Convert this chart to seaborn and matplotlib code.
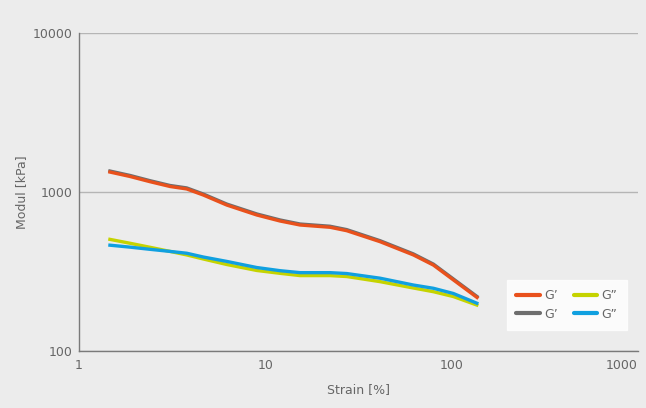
import matplotlib
matplotlib.use("Agg")
import matplotlib.pyplot as plt
import seaborn as sns
import pandas as pd
from matplotlib.ticker import FixedLocator, FixedFormatter, NullLocator
from matplotlib.lines import Line2D

strain = [1.436, 1.878, 2.405, 3.08, 3.785, 4.648, 6.206, 8.99, 11.99,
          15.36, 22.25, 27.35, 41.28, 62.3, 79.8, 102.1, 139.1]
g1_orange = [1342, 1252, 1161, 1083, 1045, 957, 828, 717, 657,
             620, 600, 571, 487, 402, 347, 280, 214]
g1_gray = [1362, 1271, 1178, 1099, 1061, 971, 840, 728, 667,
           629, 609, 580, 494, 408, 352, 284, 217]
g2_yellow = [506, 476, 449, 423, 402, 379, 350, 321, 308,
             298, 298, 294, 273, 249, 236, 220, 193]
g2_blue = [464, 450, 436, 423, 412, 390, 366, 335, 320,
           311, 311, 307, 287, 260, 248, 230, 198]

labels = ["G\u2019", "G\u2019", "G\u201d", "G\u201d"]
colors = ["#e9511c", "#6e6e6e", "#c5d300", "#10a0e0"]
xticks = [1, 10, 100, 1000]
yticks = [100, 1000, 10000]

sns.set_style("white")
plt.rcParams["font.family"] = ["DejaVu Sans"]
bg = "#ececec"
txt = "#666666"

fig = plt.figure(figsize=(6.46, 4.08), dpi=100, facecolor=bg)
ax = fig.add_axes([79/646, 1-351/408, (638-79)/646, (351-33)/408])
ax.set_facecolor(bg)

series = [("gray", g1_gray, colors[1]), ("orange", g1_orange, colors[0]),
          ("yellow", g2_yellow, colors[2]), ("blue", g2_blue, colors[3])]
for name, vals, c in series:
    df = pd.DataFrame({"x": strain, "y": vals})
    sns.lineplot(data=df, x="x", y="y", ax=ax, color=c, lw=2.4,
                 solid_capstyle="butt", solid_joinstyle="round", legend=False)

ax.set_xscale("log")
ax.set_yscale("log")
ax.set_xlim(1, 1000)
ax.set_ylim(100, 10000)
ax.xaxis.set_major_locator(FixedLocator(xticks))
ax.xaxis.set_major_formatter(FixedFormatter([str(v) for v in xticks]))
ax.yaxis.set_major_locator(FixedLocator(yticks))
ax.yaxis.set_major_formatter(FixedFormatter([str(v) for v in yticks]))
ax.xaxis.set_minor_locator(NullLocator())
ax.yaxis.set_minor_locator(NullLocator())
ax.tick_params(axis="both", length=0, labelsize=9, colors=txt)
ax.tick_params(axis="x", pad=6)
ax.tick_params(axis="y", pad=5)
xtl = ax.get_xticklabels()
xtl[-1].set_horizontalalignment("right")
ax.grid(axis="y", color="#b5b5b5", lw=1)
ax.set_axisbelow(True)
for s in ["top", "right"]:
    ax.spines[s].set_visible(False)
for s in ["left", "bottom"]:
    ax.spines[s].set_color("#7a7a7a")
    ax.spines[s].set_linewidth(1)
ax.set_xlabel("Strain [%]", fontsize=9, color=txt, labelpad=8)
ax.set_ylabel("Modul [kPa]", fontsize=9, color=txt, labelpad=3)

handles = [Line2D([], [], color=colors[0], lw=3),
           Line2D([], [], color=colors[1], lw=3),
           Line2D([], [], color=colors[2], lw=3),
           Line2D([], [], color=colors[3], lw=3)]
leg = ax.legend(handles, labels, ncol=2, loc="lower right",
                bbox_to_anchor=(0.9803, 0.066), borderaxespad=0,
                frameon=True, fancybox=False,
                fontsize=9, handlelength=1.9, columnspacing=1.25,
                handletextpad=0.35, labelspacing=0.45, borderpad=0.75)
leg.get_frame().set_facecolor("white")
leg.get_frame().set_edgecolor("white")
for t in leg.get_texts():
    t.set_color(txt)

fig.savefig("out.png", dpi=100, facecolor=bg)
